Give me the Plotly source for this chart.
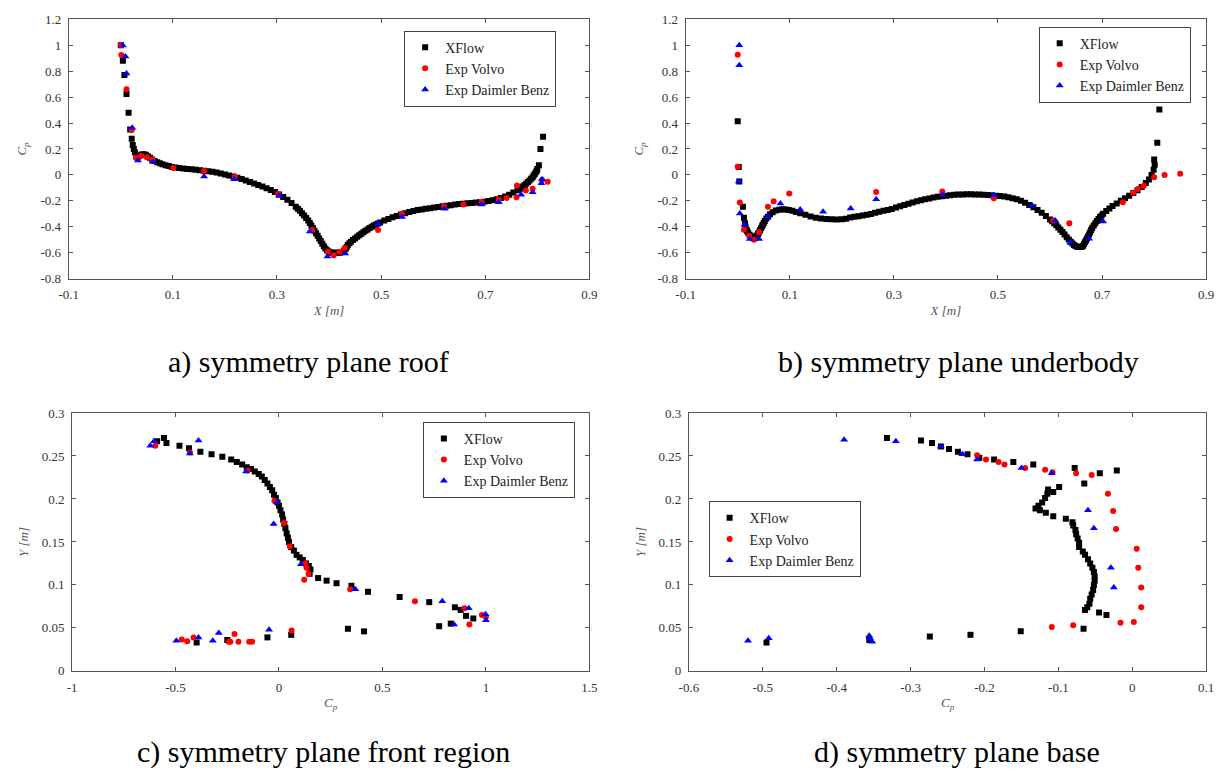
import plotly.graph_objects as go

W, H = 1229, 776

# ---------------- Panel a: symmetry plane roof ----------------
a_xflow_x = [0.0, 0.004, 0.007, 0.011, 0.015, 0.018, 0.021, 0.023, 0.025, 0.027, 0.03, 0.033, 0.036, 0.04,
             0.044, 0.048, 0.052, 0.056, 0.06, 0.065, 0.07, 0.075, 0.08, 0.086, 0.092, 0.098, 0.105, 0.112,
             0.12, 0.128, 0.136, 0.144, 0.152, 0.16, 0.168, 0.176, 0.184, 0.192, 0.2, 0.208, 0.216, 0.224,
             0.232, 0.24, 0.248, 0.256, 0.264, 0.272, 0.28, 0.288, 0.296, 0.304, 0.312, 0.32, 0.328, 0.336,
             0.34, 0.344, 0.348, 0.352, 0.356, 0.36, 0.363, 0.366, 0.369, 0.372, 0.375, 0.378, 0.381, 0.384,
             0.387, 0.39, 0.393, 0.396, 0.399, 0.402, 0.406, 0.41, 0.414, 0.418, 0.422, 0.426, 0.429, 0.432,
             0.434, 0.436, 0.439, 0.442, 0.446, 0.45, 0.454, 0.458, 0.462, 0.466, 0.47, 0.474, 0.478, 0.482,
             0.486, 0.49, 0.494, 0.498, 0.506, 0.514, 0.522, 0.53, 0.538,
             0.546, 0.554, 0.562, 0.57, 0.578, 0.586, 0.594, 0.602, 0.61, 0.618, 0.626, 0.634, 0.642, 0.65,
             0.658, 0.666, 0.674, 0.682, 0.69, 0.698, 0.706, 0.714, 0.722, 0.73, 0.738, 0.746, 0.754, 0.762,
             0.766, 0.77, 0.773, 0.776, 0.779, 0.782, 0.785, 0.788, 0.791, 0.793, 0.795, 0.797, 0.799, 0.8,
             0.803, 0.806, 0.811]
a_xflow_y = [1.0, 0.88, 0.77, 0.625, 0.48, 0.35, 0.28, 0.23, 0.2, 0.175, 0.15, 0.14, 0.148, 0.158,
             0.16, 0.155, 0.145, 0.132, 0.12, 0.108, 0.098, 0.09, 0.082, 0.075, 0.068, 0.062, 0.057, 0.053,
             0.049, 0.046, 0.043, 0.04, 0.037, 0.033, 0.029, 0.024, 0.018, 0.011, 0.004, -0.004, -0.013, -0.022,
             -0.032, -0.043, -0.054, -0.066, -0.078, -0.09, -0.103, -0.117, -0.132, -0.15, -0.17, -0.192, -0.217, -0.245,
             -0.26, -0.277, -0.295, -0.312, -0.332, -0.352, -0.37, -0.39, -0.41, -0.43, -0.45, -0.47, -0.49, -0.51,
             -0.53, -0.55, -0.567, -0.58, -0.59, -0.597, -0.6, -0.6, -0.6, -0.6, -0.598, -0.595, -0.585, -0.57,
             -0.555, -0.54, -0.527, -0.515, -0.502, -0.49, -0.477, -0.465, -0.453, -0.442, -0.431, -0.42, -0.41, -0.4,
             -0.391, -0.382, -0.374, -0.366, -0.352, -0.339, -0.327, -0.316, -0.305,
             -0.295, -0.286, -0.278, -0.271, -0.266, -0.261, -0.257, -0.252, -0.247, -0.242, -0.238, -0.234, -0.229, -0.225,
             -0.222, -0.219, -0.216, -0.213, -0.21, -0.206, -0.201, -0.195, -0.188, -0.178, -0.166, -0.152, -0.136, -0.118,
             -0.108, -0.097, -0.088, -0.078, -0.067, -0.055, -0.043, -0.03, -0.017, -0.005, 0.008, 0.02, 0.032, 0.045,
             0.075, 0.2, 0.295]
a_volvo_x = [0.0, 0.001, 0.011, 0.021, 0.029, 0.039, 0.05, 0.061, 0.101, 0.16, 0.219, 0.302, 0.368, 0.398,
             0.409, 0.42, 0.43, 0.494, 0.54, 0.621, 0.658, 0.693, 0.726, 0.741, 0.761, 0.76, 0.778, 0.791,
             0.809, 0.82]
a_volvo_y = [1.0, 0.925, 0.661, 0.346, 0.132, 0.147, 0.137, 0.12, 0.054, 0.031, -0.014, -0.145, -0.425, -0.593,
             -0.619, -0.593, -0.563, -0.425, -0.299, -0.241, -0.228, -0.208, -0.19, -0.178, -0.082, -0.173, -0.12, -0.107,
             -0.04, -0.052]
a_db_x = [0.004, 0.009, 0.011, 0.022, 0.033, 0.062, 0.16, 0.218, 0.304, 0.363, 0.397, 0.431, 0.494, 0.54,
          0.622, 0.693, 0.726, 0.769, 0.791, 0.809, 0.808]
a_db_y = [0.998, 0.913, 0.782, 0.364, 0.112, 0.099, -0.012, -0.034, -0.16, -0.437, -0.629, -0.606, -0.379, -0.324,
          -0.261, -0.228, -0.211, -0.153, -0.133, -0.034, -0.064]

# ---------------- Panel b: symmetry plane underbody ----------------
b_xflow_x = [0.0, 0.002, 0.003, 0.01, 0.012, 0.014, 0.015, 0.017, 0.018, 0.02, 0.023, 0.026, 0.029, 0.032, 0.034,
             0.036, 0.037, 0.039, 0.04, 0.042, 0.043, 0.045, 0.047, 0.048, 0.05, 0.052, 0.055, 0.058, 0.062,
             0.067, 0.073, 0.08, 0.086, 0.092, 0.098, 0.105,
             0.112, 0.12, 0.13, 0.14, 0.15, 0.16, 0.17, 0.18, 0.19, 0.2, 0.208, 0.216, 0.224, 0.232,
             0.24, 0.248, 0.256, 0.264, 0.272, 0.28, 0.288, 0.296, 0.304, 0.312, 0.32, 0.328, 0.336, 0.344,
             0.352, 0.36, 0.368, 0.376, 0.384, 0.392, 0.4, 0.408, 0.416, 0.424, 0.432, 0.44, 0.448, 0.456,
             0.464, 0.472, 0.48, 0.488, 0.496, 0.504, 0.512, 0.52, 0.528, 0.536, 0.544, 0.552, 0.56, 0.568,
             0.576, 0.584, 0.592, 0.6, 0.604, 0.608, 0.612, 0.616, 0.62, 0.624, 0.628, 0.632, 0.636, 0.64,
             0.643, 0.646, 0.649, 0.652, 0.655, 0.658, 0.661, 0.663, 0.665, 0.667, 0.669,
             0.671, 0.673, 0.675, 0.677, 0.679, 0.681, 0.684, 0.687, 0.69, 0.693, 0.696, 0.699, 0.702, 0.708,
             0.714, 0.72, 0.728, 0.736, 0.744, 0.752,
             0.76, 0.768, 0.776, 0.784, 0.79, 0.795, 0.799, 0.801, 0.8, 0.806, 0.81]
b_xflow_y = [0.415, 0.062, -0.05, -0.246, -0.33, -0.372, -0.4, -0.423, -0.435, -0.445, -0.461, -0.475, -0.486, -0.488, -0.482,
             -0.473, -0.468, -0.455, -0.447, -0.435, -0.425, -0.41, -0.395, -0.385, -0.37, -0.355, -0.337, -0.322, -0.303,
             -0.288, -0.275, -0.268, -0.265, -0.266, -0.27, -0.276,
             -0.285, -0.295, -0.308, -0.32, -0.33, -0.336, -0.34, -0.342, -0.343, -0.342, -0.338, -0.328, -0.322, -0.318,
             -0.312, -0.307, -0.302, -0.292, -0.284, -0.277, -0.27, -0.262, -0.252, -0.242, -0.232, -0.222, -0.212, -0.203,
             -0.195, -0.188, -0.181, -0.175, -0.169, -0.164, -0.16, -0.156, -0.153, -0.151, -0.15, -0.149, -0.149, -0.15,
             -0.151, -0.153, -0.155, -0.157, -0.16, -0.163, -0.167, -0.172, -0.179, -0.188, -0.2, -0.215, -0.232, -0.25,
             -0.27, -0.292, -0.316, -0.343, -0.357, -0.372, -0.388, -0.405, -0.422, -0.44, -0.46, -0.48, -0.498, -0.515,
             -0.528, -0.54, -0.548, -0.553, -0.556, -0.556, -0.553, -0.548, -0.535, -0.52, -0.505,
             -0.49, -0.475, -0.46, -0.442, -0.425, -0.408, -0.39, -0.372, -0.355, -0.34, -0.325, -0.312, -0.3, -0.278,
             -0.258, -0.24, -0.22, -0.2, -0.18, -0.16,
             -0.14, -0.118, -0.093, -0.063, -0.035, 0.0, 0.04, 0.078, 0.12, 0.248, 0.505]
b_volvo_x = [0.0, 0.0, 0.004, 0.012, 0.022, 0.031, 0.041, 0.058, 0.069, 0.099, 0.266, 0.393, 0.492, 0.606,
             0.637, 0.74, 0.76, 0.769, 0.78, 0.8, 0.82, 0.85]
b_volvo_y = [0.927, 0.063, -0.213, -0.423, -0.469, -0.499, -0.443, -0.246, -0.203, -0.144, -0.132, -0.127, -0.18, -0.352,
             -0.372, -0.21, -0.137, -0.109, -0.084, -0.018, 0.0, 0.01]
b_db_x = [0.003, 0.003, 0.002, 0.004, 0.013, 0.023, 0.041, 0.058, 0.082, 0.12, 0.164, 0.217, 0.266, 0.394,
          0.492, 0.566, 0.61, 0.639, 0.675, 0.702]
b_db_y = [1.0, 0.846, -0.051, -0.297, -0.385, -0.494, -0.494, -0.322, -0.22, -0.266, -0.284, -0.258, -0.187, -0.157,
          -0.157, -0.238, -0.352, -0.524, -0.492, -0.359]

# ---------------- Panel c: symmetry plane front region ----------------
c_xflow_x = [-0.589, -0.556, -0.544, -0.481, -0.435, -0.38, -0.326, -0.274, -0.231, -0.204, -0.178, -0.156, -0.135,
             -0.117, -0.098, -0.083, -0.069, -0.056, -0.044, -0.033, -0.024, -0.015, -0.007, 0.0, 0.007, 0.015,
             0.02, 0.026, 0.031, 0.037, 0.043, 0.048, 0.059, 0.072, 0.085, 0.1, 0.115, 0.13, 0.144, 0.152,
             0.148, 0.189, 0.23, 0.278, 0.35, 0.43, 0.583, 0.726, 0.85, 0.878, 0.904, 0.939, 0.774, 0.83,
             0.333, 0.411, 0.059, -0.056, -0.25, -0.398]
c_xflow_y = [0.267, 0.271, 0.265, 0.262, 0.259, 0.255, 0.252, 0.249, 0.246, 0.243, 0.24, 0.237, 0.235,
             0.232, 0.229, 0.226, 0.222, 0.218, 0.214, 0.21, 0.205, 0.201, 0.196, 0.192, 0.187, 0.182,
             0.176, 0.171, 0.166, 0.16, 0.155, 0.15, 0.144, 0.14, 0.135, 0.132, 0.129, 0.125, 0.122, 0.118,
             0.113, 0.108, 0.105, 0.102, 0.099, 0.092, 0.086, 0.08, 0.074, 0.071, 0.064, 0.061, 0.052, 0.055,
             0.049, 0.046, 0.042, 0.039, 0.036, 0.033]
c_volvo_x = [-0.598, -0.43, -0.152, -0.022, 0.024, 0.052, 0.126, 0.133, 0.143, 0.122, 0.344, 0.657, 0.896, 0.92,
             0.981, 1.0, -0.47, -0.444, -0.413, -0.243, -0.215, -0.235, -0.196, -0.144, -0.13, 0.061]
c_volvo_y = [0.262, 0.254, 0.233, 0.198, 0.172, 0.145, 0.125, 0.12, 0.113, 0.106, 0.095, 0.081, 0.073, 0.054,
             0.065, 0.063, 0.0365, 0.0346, 0.039, 0.0338, 0.043, 0.0338, 0.0338, 0.0338, 0.0338, 0.047]
c_db_x = [-0.622, -0.604, -0.431, -0.389, -0.159, -0.011, -0.026, 0.106, 0.369, 0.789, 0.846, 0.917, 0.998, 1.0,
          -0.496, -0.389, -0.32, -0.291, -0.048]
c_db_y = [0.262, 0.267, 0.253, 0.268, 0.232, 0.196, 0.171, 0.124, 0.095, 0.081, 0.054, 0.073, 0.066, 0.059,
          0.035, 0.039, 0.035, 0.044, 0.048]

# ---------------- Panel d: symmetry plane base ----------------
d_xflow_x = [-0.332, -0.286, -0.271, -0.259, -0.248, -0.236, -0.223, -0.207, -0.187, -0.161, -0.134, -0.078, -0.044,
             -0.021, -0.065, -0.099, -0.107, -0.114, -0.115, -0.118, -0.122, -0.127, -0.131, -0.125, -0.117, -0.107,
             -0.09, -0.081, -0.08, -0.077, -0.076, -0.074, -0.072, -0.072, -0.067, -0.064, -0.06, -0.057, -0.054,
             -0.052, -0.051, -0.051, -0.052, -0.053, -0.055, -0.057, -0.058, -0.061, -0.064, -0.045, -0.035, -0.066,
             -0.151, -0.219, -0.274, -0.356, -0.495]
d_xflow_y = [0.271, 0.268, 0.265, 0.261, 0.258, 0.255, 0.252, 0.248, 0.246, 0.243, 0.24, 0.236, 0.23,
             0.233, 0.218, 0.214, 0.208, 0.211, 0.206, 0.201, 0.196, 0.192, 0.189, 0.187, 0.184, 0.18,
             0.177, 0.173, 0.169, 0.164, 0.159, 0.154, 0.149, 0.144, 0.139, 0.135, 0.13, 0.125, 0.12,
             0.115, 0.11, 0.105, 0.1, 0.094, 0.089, 0.084, 0.078, 0.074, 0.071, 0.068, 0.065, 0.049,
             0.046, 0.042, 0.04, 0.036, 0.033]
d_volvo_x = [-0.21, -0.198, -0.181, -0.173, -0.145, -0.118, -0.108, -0.076, -0.055, -0.033, -0.026, -0.022, 0.006,
             0.008, 0.012, 0.012, 0.002, -0.016, -0.08, -0.109]
d_volvo_y = [0.251, 0.246, 0.243, 0.24, 0.236, 0.234, 0.231, 0.23, 0.228, 0.206, 0.186, 0.165, 0.142,
             0.12, 0.097, 0.074, 0.057, 0.056, 0.053, 0.051]
d_db_x = [-0.39, -0.32, -0.259, -0.23, -0.21, -0.15, -0.109, -0.06, -0.052, -0.029, -0.025, -0.52, -0.492,
          -0.356, -0.355, -0.352]
d_db_y = [0.269, 0.267, 0.261, 0.252, 0.246, 0.236, 0.23, 0.187, 0.166, 0.12, 0.097, 0.035, 0.038,
          0.041, 0.038, 0.034]

# ---------------- ticks / labels ----------------
ab_xticks = [-0.1, 0.1, 0.3, 0.5, 0.7, 0.9]
ab_xticktext = ["-0.1", "0.1", "0.3", "0.5", "0.7", "0.9"]
ab_yticks = [-0.8, -0.6, -0.4, -0.2, 0, 0.2, 0.4, 0.6, 0.8, 1.0, 1.2]
ab_yticktext = ["-0.8", "-0.6", "-0.4", "-0.2", "0", "0.2", "0.4", "0.6", "0.8", "1", "1.2"]
c_xticks = [-1, -0.5, 0, 0.5, 1, 1.5]
c_xticktext = ["-1", "-0.5", "0", "0.5", "1", "1.5"]
d_xticks = [-0.6, -0.5, -0.4, -0.3, -0.2, -0.1, 0, 0.1]
d_xticktext = ["-0.6", "-0.5", "-0.4", "-0.3", "-0.2", "-0.1", "0", "0.1"]
cd_yticks = [0, 0.05, 0.1, 0.15, 0.2, 0.25, 0.3]
cd_yticktext = ["0", "0.05", "0.1", "0.15", "0.2", "0.25", "0.3"]

series_names = ["XFlow", "Exp Volvo", "Exp Daimler Benz"]
captions = ["a) symmetry plane roof", "b) symmetry plane underbody",
            "c) symmetry plane front region", "d) symmetry plane base"]

FONT = "Liberation Serif"

fig = go.Figure()

panels = [
    ("x", "y", "legend", a_xflow_x, a_xflow_y, a_volvo_x, a_volvo_y, a_db_x, a_db_y),
    ("x2", "y2", "legend2", b_xflow_x, b_xflow_y, b_volvo_x, b_volvo_y, b_db_x, b_db_y),
    ("x3", "y3", "legend3", c_xflow_x, c_xflow_y, c_volvo_x, c_volvo_y, c_db_x, c_db_y),
    ("x4", "y4", "legend4", d_xflow_x, d_xflow_y, d_volvo_x, d_volvo_y, d_db_x, d_db_y),
]
styles = [
    dict(symbol="square", color="#000000", size=6),
    dict(symbol="circle", color="#ff0000", size=6),
    dict(symbol="triangle-up", color="#0000ff", size=7),
]
for xa, ya, lg, xfx, xfy, vx, vy, dx, dy in panels:
    for name, sx, sy, st in zip(series_names, [xfx, vx, dx], [xfy, vy, dy], styles):
        fig.add_trace(go.Scatter(
            x=sx, y=sy, mode="markers", name=name, xaxis=xa, yaxis=ya, legend=lg,
            marker=dict(symbol=st["symbol"], color=st["color"], size=st["size"], line=dict(width=0)),
        ))

def px_x(p):
    return p / W

def px_y(p):
    return 1 - p / H

axis_common = dict(
    showline=True, mirror="allticks", linecolor="#555555", linewidth=1,
    ticks="inside", ticklen=4, tickcolor="#555555", tickwidth=1,
    showgrid=False, zeroline=False,
    tickfont=dict(family=FONT, size=13, color="#333333"),
    title_font=dict(family=FONT, size=13, color="#555555"),
)

def xax(domain, anchor, rng, tv, tt, title):
    d = dict(axis_common)
    d.update(domain=domain, anchor=anchor, range=rng, tickvals=tv, ticktext=tt,
             title=dict(text=title, standoff=4), ticklabelstandoff=4)
    return d

def yax(domain, anchor, rng, tv, tt, title):
    d = dict(axis_common)
    d.update(domain=domain, anchor=anchor, range=rng, tickvals=tv, ticktext=tt,
             title=dict(text=title, standoff=10), ticklabelstandoff=4)
    return d

top_dom = [px_y(277), px_y(12.6)]
bot_dom = [px_y(677), px_y(414)]

legend_common = dict(
    bordercolor="#444444", borderwidth=1, bgcolor="rgba(255,255,255,1)",
    font=dict(family=FONT, size=14, color="#222222"),
    xanchor="left", yanchor="top", xref="paper", yref="paper", tracegroupgap=0,
)

def leg(x, y):
    d = dict(legend_common)
    d.update(x=px_x(x), y=px_y(y))
    return d

annotations = []
for text, cx, cy in zip(captions, [303, 963, 318, 961], [362, 362, 760, 760]):
    annotations.append(dict(text=text, x=px_x(cx), y=px_y(cy), xref="paper", yref="paper",
                            showarrow=False, xanchor="center", yanchor="middle",
                            font=dict(family=FONT, size=30, color="#000000")))

fig.update_layout(
    width=W, height=H, margin=dict(l=0, r=0, t=0, b=0),
    plot_bgcolor="white", paper_bgcolor="white",
    xaxis=xax([px_x(59.6), px_x(588)], "y", [-0.1, 0.9], ab_xticks, ab_xticktext, "<i>X [m]</i>"),
    yaxis=yax(top_dom, "x", [-0.8, 1.2], ab_yticks, ab_yticktext, "<i>C<sub>p</sub></i>"),
    xaxis2=xax([px_x(685.7), px_x(1214)], "y2", [-0.1, 0.9], ab_xticks, ab_xticktext, "<i>X [m]</i>"),
    yaxis2=yax(top_dom, "x2", [-0.8, 1.2], ab_yticks, ab_yticktext, "<i>C<sub>p</sub></i>"),
    xaxis3=xax([px_x(63), px_x(588)], "y3", [-1, 1.5], c_xticks, c_xticktext, "<i>C<sub>p</sub></i>"),
    yaxis3=yax(bot_dom, "x3", [0, 0.3], cd_yticks, cd_yticktext, "<i>Y [m]</i>"),
    xaxis4=xax([px_x(689), px_x(1214)], "y4", [-0.6, 0.1], d_xticks, d_xticktext, "<i>C<sub>p</sub></i>"),
    yaxis4=yax(bot_dom, "x4", [0, 0.3], cd_yticks, cd_yticktext, "<i>Y [m]</i>"),
    legend=leg(400, 24),
    legend2=leg(1044, 20),
    legend3=leg(419, 423),
    legend4=leg(709, 504),
    annotations=annotations,
    showlegend=True,
)

fig.write_html("out.html")
